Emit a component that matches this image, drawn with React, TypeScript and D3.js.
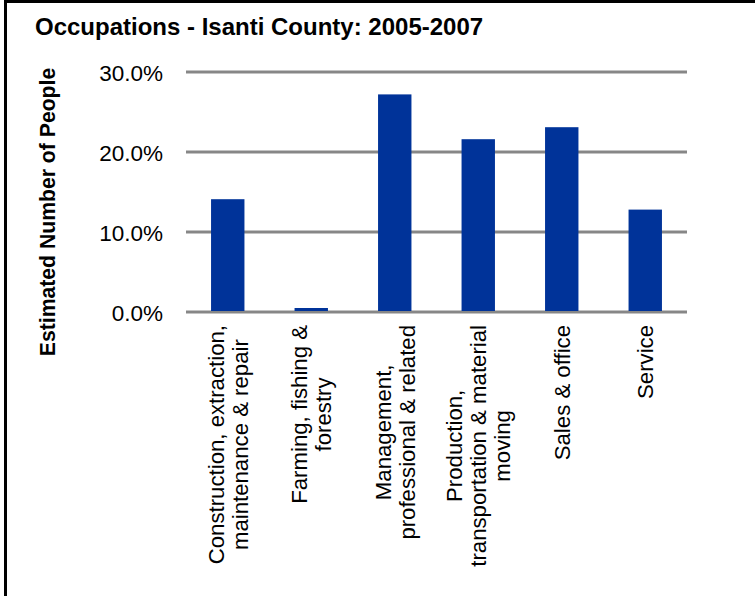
import React, { useEffect, useRef } from "react";
import * as d3 from "d3";

const categoryLines: string[][] = [
  ["Construction, extraction,", "maintenance & repair"],
  ["Farming, fishing &", "forestry"],
  ["Management,", "professional & related"],
  ["Production,", "transportation & material", "moving"],
  ["Sales & office"],
  ["Service"],
];
const categories = categoryLines.map((l) => l.join(" "));
const values = [14.1, 0.5, 27.2, 21.6, 23.1, 12.8];
const tickValues = [0, 10, 20, 30];
const titleText = "Occupations - Isanti County: 2005-2007";
const yTitle = "Estimated Number of People";

const W = 755;
const H = 596;
const FONT = "'Liberation Sans', Arial, Helvetica, sans-serif";

export default function App() {
  const ref = useRef<SVGSVGElement | null>(null);

  useEffect(() => {
    const svg = d3.select(ref.current);
    svg.selectAll("*").remove();

    const left = 186;
    const right = 687;
    const top = 72;
    const bottom = 312;

    const x = d3.scaleBand<string>().domain(categories).range([left, right]).paddingInner(0.6).paddingOuter(0.3);
    const y = d3.scaleLinear().domain([0, 30]).range([bottom, top]);

    svg.append("rect").attr("width", W).attr("height", H).attr("fill", "#fff");

    // frame
    svg
      .append("path")
      .attr("d", `M5.5,${H + 10} L5.5,1.5 L${W + 10},1.5`)
      .attr("fill", "none")
      .attr("stroke", "#000")
      .attr("stroke-width", 3);

    svg
      .append("text")
      .attr("x", 35)
      .attr("y", 35)
      .attr("font-family", FONT)
      .attr("font-weight", "bold")
      .attr("font-size", 24)
      .attr("fill", "#000")
      .text(titleText);

    // gridlines
    svg
      .append("g")
      .selectAll("line")
      .data(tickValues)
      .join("line")
      .attr("x1", left)
      .attr("x2", right)
      .attr("y1", (d) => y(d))
      .attr("y2", (d) => y(d))
      .attr("stroke", "#878787")
      .attr("stroke-width", 3);

    // tick labels
    svg
      .append("g")
      .selectAll("text")
      .data(tickValues)
      .join("text")
      .attr("x", 163)
      .attr("y", (d) => y(d) + 8.5)
      .attr("text-anchor", "end")
      .attr("font-family", FONT)
      .attr("font-size", 22.5)
      .attr("fill", "#000")
      .text((d) => d3.format(".1f")(d) + "%");

    // y title
    svg
      .append("text")
      .attr("transform", `translate(55,212) rotate(-90)`)
      .attr("text-anchor", "middle")
      .attr("font-family", FONT)
      .attr("font-weight", "bold")
      .attr("font-size", 21.2)
      .attr("fill", "#000")
      .text(yTitle);

    // bars
    svg
      .append("g")
      .selectAll("rect")
      .data(values)
      .join("rect")
      .attr("x", (_, i) => x(categories[i])!)
      .attr("width", x.bandwidth())
      .attr("y", (d) => y(d))
      .attr("height", (d) => y(0) - y(d) - 1)
      .attr("fill", "#003399");

    // category labels
    const fs = 22.2;
    const lh = 24;
    const labelTop = 325;
    categoryLines.forEach((lines, i) => {
      const cx = x(categories[i])! + x.bandwidth() / 2;
      const g = svg.append("g").attr("transform", `translate(${cx},${labelTop}) rotate(-90)`);
      const texts = lines.map((ln, j) =>
        g
          .append("text")
          .attr("text-anchor", "middle")
          .attr("font-family", FONT)
          .attr("font-size", fs)
          .attr("fill", "#000")
          .attr("y", (j - (lines.length - 1) / 2) * lh + 8)
          .text(ln)
      );
      const maxW = d3.max(texts, (t) => (t.node() as SVGTextElement).getComputedTextLength()) || 0;
      texts.forEach((t) => t.attr("x", -maxW / 2));
    });
  }, []);

  return (
    <svg
      ref={ref}
      width={W}
      height={H}
      style={{ position: "absolute", left: 0, top: 0 }}
    />
  );
}
